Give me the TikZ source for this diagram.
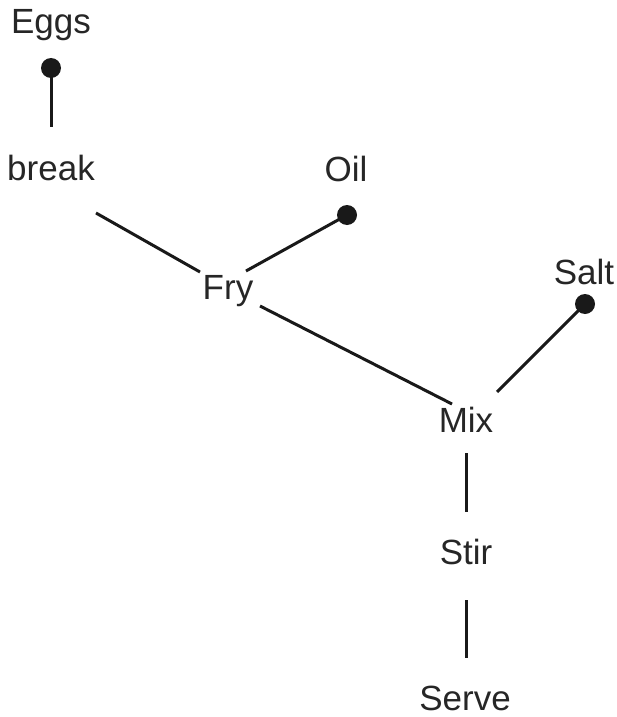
\documentclass[tikz,border=0pt]{standalone}
\usepackage{fontspec}
\setmainfont{Liberation Sans}
\begin{document}
\begin{tikzpicture}[x=1pt,y=-1pt,
  label/.style={inner sep=0pt,anchor=base,font=\fontsize{35}{40}\selectfont,text=black!85},
  dot/.style={circle,fill=black!90,inner sep=0pt,minimum size=20pt},
  link/.style={line width=3pt,draw=black!90}]
\useasboundingbox (0,0) rectangle (617,717);

% step labels
\node[label] (eggs)  at (51,34)   {Eggs};
\node[label] (brk)   at (51,180)  {break};
\node[label] (oil)   at (346,181) {Oil};
\node[label] (fry)   at (228,299) {Fry};
\node[label] (salt)  at (584,284) {Salt};
\node[label] (mix)   at (466,432) {Mix};
\node[label] (stir)  at (466,564) {Stir};
\node[label] (serve) at (465,710) {Serve};

% ingredient markers
\node[dot] (eggsdot) at (51,68)  {};
\node[dot] (oildot)  at (347,215) {};
\node[dot] (saltdot) at (585,304) {};

% free ends of the connectors
\coordinate (eggsend) at (51,127);
\coordinate (oilend)  at (246,271);
\coordinate (saltend) at (497,392);
\coordinate (brkout)  at (96,213);
\coordinate (fryin)   at (200,272);
\coordinate (fryout)  at (260,306);
\coordinate (mixin)   at (452,404);
\coordinate (mixout)  at (466,453);
\coordinate (stirin)  at (466,512);
\coordinate (stirout) at (466,600);
\coordinate (servein) at (466,658);

% connectors
\draw[link] (eggsdot.center) -- (eggsend);
\draw[link] (oildot.center) -- (oilend);
\draw[link] (saltdot.center) -- (saltend);
\draw[link] (brkout) -- (fryin);
\draw[link] (fryout) -- (mixin);
\draw[link] (mixout) -- (stirin);
\draw[link] (stirout) -- (servein);
\end{tikzpicture}
\end{document}
